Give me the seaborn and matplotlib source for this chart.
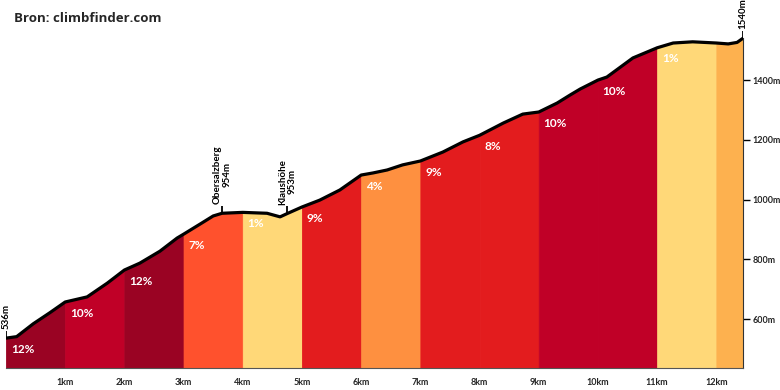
import matplotlib
matplotlib.use('Agg')
import matplotlib.pyplot as plt
import seaborn as sns
import numpy as np

# profile (km, m)
dist = [0.0, 0.18, 0.46, 0.74, 1.0, 1.37, 1.71, 2.0, 2.26, 2.6, 2.89, 3.0,
        3.28, 3.5, 3.65, 4.0, 4.41, 4.63, 4.75, 5.0, 5.3, 5.64, 6.0, 6.2,
        6.44, 6.7, 7.0, 7.38, 7.72, 8.0, 8.4, 8.73, 9.0, 9.31, 9.53, 9.7,
        10.0, 10.15, 10.59, 11.0, 11.27, 11.6, 12.0, 12.2, 12.35, 12.45]
elev = [536, 541, 584, 621, 657, 674, 720, 764, 787, 827, 871, 884,
        918, 945, 954, 957, 954, 942, 953, 975, 998, 1032, 1082, 1089,
        1099, 1116, 1129, 1159, 1193, 1215, 1256, 1286, 1293, 1323, 1350, 1370,
        1400, 1410, 1474, 1508, 1524, 1528, 1524, 1521, 1526, 1540]

# 1 km segments
seg_start = [0, 1, 2, 3, 4, 5, 6, 7, 8, 9, 10, 11, 12]
seg_end = [1, 2, 3, 4, 5, 6, 7, 8, 9, 10, 11, 12, 12.45]
seg_pct = ['12%', '10%', '12%', '7%', '1%', '9%', '4%', '9%', '8%', '10%', '10%', '1%', '']
seg_col = ['#9a0323', '#c00027', '#9a0323', '#ff512d', '#ffd878', '#e31c1e', '#fe9040',
           '#e31c1e', '#e31c1e', '#c00027', '#c00027', '#ffd878', '#fdb14f']

# named points
poi_name = ['Obersalzberg', 'Klaushöhe']
poi_km = [3.65, 4.75]
poi_elev = [954, 953]

km_ticks = [1, 2, 3, 4, 5, 6, 7, 8, 9, 10, 11, 12]
m_ticks = [600, 800, 1000, 1200, 1400]

sns.set_style('white')
plt.rcParams['font.family'] = ['Lato', 'DejaVu Sans']

d = np.array(dist)
e = np.array(elev)

fig = plt.figure(figsize=(7.8, 3.9), dpi=100)
ax = fig.add_axes([6 / 780, 22 / 390, 737 / 780, 368 / 390])

for s0, s1, pct, c in zip(seg_start, seg_end, seg_pct, seg_col):
    m = (d >= s0) & (d <= s1)
    ax.fill_between(d[m], 436, e[m], facecolor=c, edgecolor=c, lw=0.6)
    if pct:
        y0 = e[d == s0][0]
        ax.text(s0 + 0.08, y0 - 37, pct, color='white', fontsize=8.5,
                fontweight='bold', va='center', ha='left')

sns.lineplot(x=dist, y=elev, color='black', lw=2.3, ax=ax)

# start / end / poi markers
def marker(x, y, txt):
    ax.plot([x, x], [y, y + 25], color='black', lw=1.3, solid_capstyle='butt')
    ax.text(x, y + 30, txt, rotation=90, ha='center', va='bottom', fontsize=7,
            fontweight='bold', color='black', linespacing=1.1)

marker(dist[0], elev[0], '%dm' % elev[0])
marker(dist[-1], elev[-1], '%dm' % elev[-1])
for n, x, y in zip(poi_name, poi_km, poi_elev):
    marker(x, y, '%s\n%dm' % (n, y))

ax.set_xlim(0, 12.45)
ax.set_ylim(436, 1668)
ax.set_xticks(km_ticks)
ax.set_xticklabels(['%dkm' % k for k in km_ticks])
ax.yaxis.tick_right()
ax.set_yticks(m_ticks)
ax.set_yticklabels(['%dm' % v for v in m_ticks])
ax.tick_params(axis='both', length=5, width=1, color='black', labelsize=6.5, pad=2)
for lbl in ax.get_xticklabels() + ax.get_yticklabels():
    lbl.set_fontweight('bold')
for s in ['left', 'top']:
    ax.spines[s].set_visible(False)
ax.spines['right'].set_bounds(436, 1540)
ax.spines['right'].set_color('#333333')
ax.spines['bottom'].set_color('#555555')
ax.spines['bottom'].set_bounds(0, 12.45)
ax.set_xlabel('')
ax.set_ylabel('')

fig.text(14 / 780, 1 - 18 / 390, 'Bron: climbfinder.com', fontsize=9.5, fontweight='bold',
         family=['Open Sans', 'DejaVu Sans'], va='center', ha='left')

fig.savefig('out.png', dpi=100)
